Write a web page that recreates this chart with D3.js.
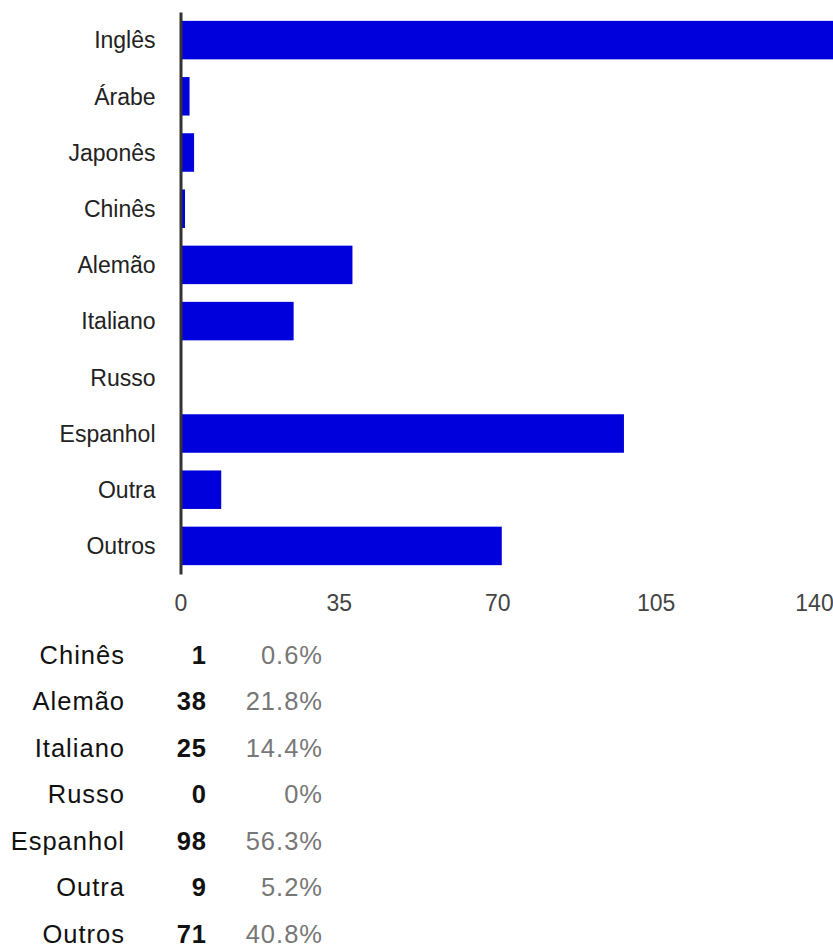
<!DOCTYPE html>
<html>
<head>
<meta charset="utf-8">
<script src="https://cdn.jsdelivr.net/npm/d3@7"></script>
<style>
  html, body { margin: 0; padding: 0; background: #fff; }
  svg { display: block; font-family: Arial, "Liberation Sans", Helvetica, sans-serif; }
</style>
</head>
<body>
<svg id="chart" width="833" height="948"></svg>
<script>
// Languages and how many respondents picked each one
const categories = ["Inglês", "Árabe", "Japonês", "Chinês", "Alemão", "Italiano", "Russo", "Espanhol", "Outra", "Outros"];
const counts = [165, 2, 3, 1, 38, 25, 0, 98, 9, 71];
const xTicks = [0, 35, 70, 105, 140];
const respondents = 174;
// Rows listed in the summary table under the chart
const tableRows = ["Chinês", "Alemão", "Italiano", "Russo", "Espanhol", "Outra", "Outros"];

const data = categories.map((c, i) => ({ category: c, count: counts[i] }));

const svg = d3.select("#chart");
const W = 833, H = 948;

const x = d3.scaleLinear().domain([0, 140]).range([180.5, 814]);
const y = d3.scaleBand()
  .domain(categories)
  .range([12, 574])
  .paddingInner(0.315)
  .paddingOuter(0.1575);

// clip so the longest bar stops at the page edge
svg.append("clipPath").attr("id", "plotClip")
  .append("rect").attr("x", 0).attr("y", 0).attr("width", W).attr("height", H);

svg.append("g").attr("clip-path", "url(#plotClip)")
  .selectAll("rect.bar")
  .data(data)
  .join("rect")
  .attr("class", "bar")
  .attr("x", x(0))
  .attr("y", d => y(d.category))
  .attr("width", d => Math.max(0, x(d.count) - x(0)))
  .attr("height", y.bandwidth())
  .attr("fill", "#0000dc");

// category axis with its thick baseline
const yAxis = svg.append("g")
  .attr("transform", `translate(${x(0)},0)`)
  .call(d3.axisLeft(y).tickSize(0).tickSizeOuter(0).tickPadding(25));
yAxis.select(".domain").attr("stroke", "#333").attr("stroke-width", 3);
yAxis.selectAll(".tick text")
  .attr("font-size", "23px")
  .attr("font-family", "Arial, 'Liberation Sans', sans-serif")
  .attr("fill", "#222")
  .attr("dy", "0.36em");

// value axis: labels only
const xAxis = svg.append("g")
  .attr("transform", "translate(0,588)")
  .call(d3.axisBottom(x).tickValues(xTicks).tickSize(0).tickPadding(0).tickFormat(d3.format("d")));
xAxis.select(".domain").remove();
xAxis.selectAll(".tick text")
  .attr("font-size", "23px")
  .attr("font-family", "Arial, 'Liberation Sans', sans-serif")
  .attr("fill", "#444")
  .attr("dy", "0.71em")
  .attr("y", 7);

// summary table
const pct = v => {
  const p = v / respondents * 100;
  return (v === 0 ? "0" : d3.format(".1f")(p)) + "%";
};
const rowY = d3.scalePoint().domain(tableRows).range([663.5, 942.5]);
const rows = svg.append("g").attr("class", "table")
  .selectAll("g.row")
  .data(tableRows.map(c => data.find(d => d.category === c)))
  .join("g")
  .attr("class", "row")
  .attr("transform", d => `translate(0,${rowY(d.category)})`)
  .style("font-size", "25.5px")
  .style("letter-spacing", "1px");

rows.append("text")
  .attr("x", 125)
  .attr("text-anchor", "end")
  .attr("fill", "#111")
  .text(d => d.category);

rows.append("text")
  .attr("x", 207)
  .attr("text-anchor", "end")
  .attr("font-weight", "bold")
  .attr("fill", "#111")
  .text(d => d.count);

rows.append("text")
  .attr("x", 323)
  .attr("text-anchor", "end")
  .attr("fill", "#777")
  .text(d => pct(d.count));
</script>
</body>
</html>
